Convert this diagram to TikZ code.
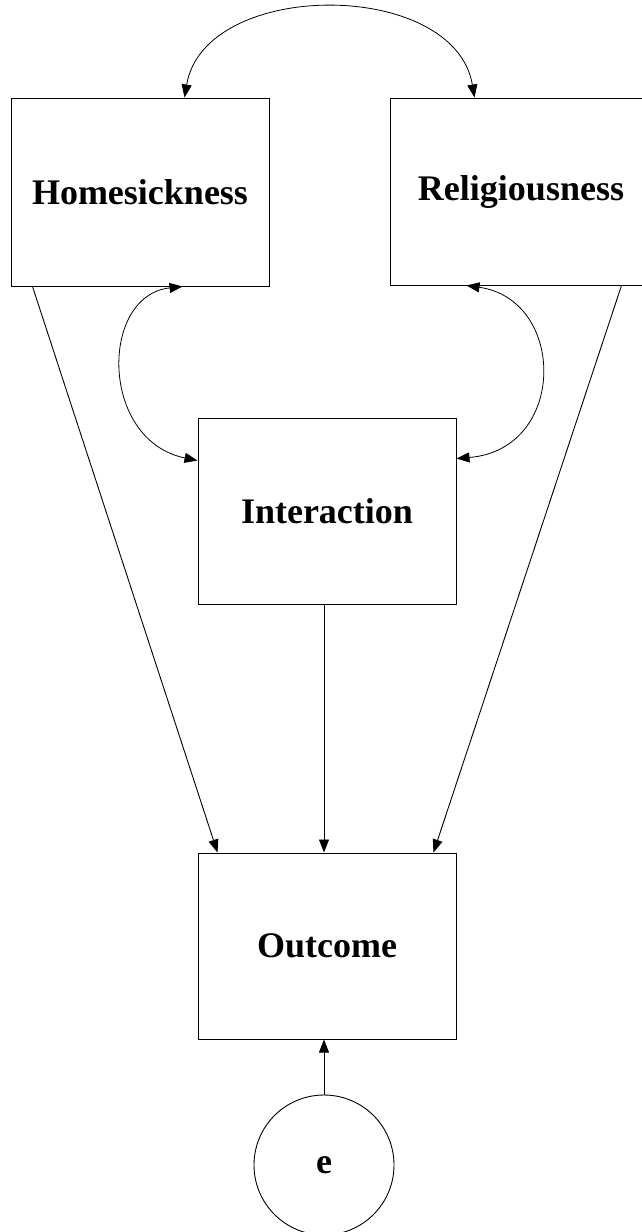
\documentclass[tikz,border=0pt]{standalone}
\usepackage{fontspec}
\setmainfont{Liberation Serif}
\usepackage{tikz}
\usetikzlibrary{arrows.meta}

\begin{document}
\begin{tikzpicture}[
    x=1pt,y=-1pt,
    varbox/.style={draw=black,fill=white,line width=1pt,inner sep=0pt,font=\fontsize{36}{40}\selectfont\bfseries},
    errcircle/.style={draw=black,circle,line width=0.9pt,minimum size=140pt,inner sep=0pt,font=\fontsize{36}{40}\selectfont\bfseries},
    pathArrow/.style={draw=black,line width=0.9pt,-{Triangle[length=13pt,width=10pt]}},
    covArrow/.style={draw=black,line width=0.8pt,{Triangle[length=13pt,width=10pt]}-{Triangle[length=13pt,width=10pt]}}
]
\clip (0,0) rectangle (642,1232);
\fill[white] (0,0) rectangle (642,1232);
\node[varbox,minimum width=258pt,minimum height=188pt] (H) at (140,192) {Homesickness};
\node[varbox,minimum width=262pt,minimum height=187pt] (R) at (521,191.5) {Religiousness};
\node[varbox,minimum width=258pt,minimum height=186pt] (I) at (327,511) {Interaction};
\node[varbox,minimum width=258pt,minimum height=186pt] (O) at (327,946) {Outcome};
\node[errcircle] (e) at (324,1165) {e};
% direct paths
\draw[pathArrow] ([xshift=22]H.south west) -- ([xshift=20]O.north west);
\draw[pathArrow] ([xshift=232]R.south west) -- ([xshift=-23]O.north east);
\draw[pathArrow] (I.south -| e) -- (O.north -| e);
\draw[pathArrow] (e) -- (O.south -| e);
% covariances
\draw[covArrow] ([xshift=174]H.north west) .. controls +(20,-119) and +(-20,-119) .. ([xshift=85]R.north west);
\draw[covArrow] ([xshift=172]H.south west) .. controls +(-83,9) and +(-98,-20) .. ([yshift=-43]I.north west);
\draw[covArrow] ([xshift=77]R.south west) .. controls +(100,14) and +(111,-9) .. ([yshift=-41]I.north east);
\end{tikzpicture}
\end{document}
